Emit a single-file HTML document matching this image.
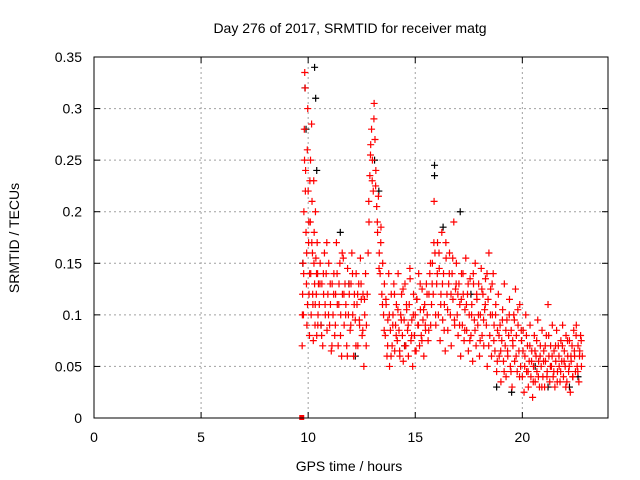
<!DOCTYPE html>
<html><head><meta charset="utf-8"><style>
body{margin:0;background:#fff}
svg{display:block;font-family:"Liberation Sans",sans-serif}
</style></head><body>
<svg id="chart" width="640" height="480">
<rect width="640" height="480" fill="#fff"/>
<g id="grid"></g>
<g id="blk"></g>
<g id="red"></g>
<rect x="94" y="57" width="514" height="361" fill="none" stroke="#000" stroke-width="1"/>
<g id="axes"></g>
<text x="350" y="33" text-anchor="middle" font-size="14">Day 276 of 2017, SRMTID for receiver matg</text>
<text x="349" y="471" text-anchor="middle" font-size="14">GPS time / hours</text>
<text x="19" y="238" text-anchor="middle" font-size="14" transform="rotate(-90 19 238)">SRMTID / TECUs</text>
</svg>
<script>
const xTicks=[0,5,10,15,20];
const yTicks=[0,0.05,0.1,0.15,0.2,0.25,0.3,0.35];
const yTickLabels=["0","0.05","0.1","0.15","0.2","0.25","0.3","0.35"];
const redT=[9.72,9.74,9.76,9.78,9.80,9.82,9.84,9.86,9.88,9.90,9.92,9.94,9.96,9.98,10.0,10.02,10.04,10.06,10.08,10.10,10.12,10.14,10.16,10.18,10.2,10.22,10.24,10.26,10.28,10.3,10.32,10.34,10.36,10.38,10.4,10.42,10.44,10.46,10.48,
10.52,10.56,10.6,10.64,10.68,10.72,10.76,10.8,10.84,10.88,10.92,10.96,11.0,11.04,11.08,11.12,11.16,11.2,11.24,11.28,11.32,11.36,11.4,11.44,11.48,11.52,11.56,11.6,11.64,11.68,11.72,11.76,11.8,11.84,11.88,11.92,11.96,12.0,12.04,12.08,12.12,12.16,12.2,12.24,12.28,12.32,12.36,12.4,12.44,12.48,12.52,12.56,12.6,12.64,12.68,12.72,
12.76,12.8,12.84,12.88,12.92,12.96,13.0,13.04,13.08,13.12,13.16,13.2,13.24,13.28,13.32,13.36,13.4,13.44,13.48,
13.52,13.56,13.6,13.64,13.68,13.72,13.76,13.8,13.84,13.88,13.92,13.96,14.0,14.04,14.08,14.12,14.16,14.2,14.24,14.28,14.32,14.36,14.4,14.44,14.48,14.52,14.56,14.6,14.64,14.68,14.72,14.76,14.8,14.84,14.88,14.92,14.96,15.0,15.04,15.08,15.12,15.16,15.2,15.24,15.28,15.32,15.36,15.4,15.44,15.48,15.52,15.56,15.6,15.64,15.68,15.72,
15.76,15.8,15.84,15.88,15.92,15.96,16.0,16.04,16.08,16.12,16.16,16.2,16.24,16.28,16.32,16.36,16.4,16.44,16.48,16.52,16.56,16.6,16.64,16.68,16.72,16.76,16.8,16.84,16.88,16.92,
16.96,17.0,17.04,17.08,17.12,17.16,17.2,17.24,17.28,17.32,17.36,17.4,17.44,17.48,17.52,17.56,17.6,17.64,17.68,17.72,17.76,17.8,17.84,17.88,17.92,17.96,18.0,18.04,18.08,18.12,18.16,18.2,18.24,18.28,18.32,18.36,18.4,18.44,18.48,18.52,18.56,18.6,18.64,
18.68,18.72,18.76,18.8,18.84,18.88,18.92,18.96,19.0,19.04,19.08,19.12,19.16,19.2,19.24,19.28,19.32,19.36,19.4,19.44,19.48,19.52,19.56,19.6,19.64,19.68,19.72,19.76,19.8,19.84,19.88,19.92,19.96,
20.0,20.04,20.08,20.12,20.16,20.2,20.24,20.28,20.32,20.36,20.4,20.44,20.48,20.52,20.56,20.6,20.64,20.68,20.72,20.76,20.8,20.84,20.88,20.92,20.96,21.0,21.04,21.08,21.12,21.16,21.2,21.24,21.28,21.32,21.36,21.4,21.44,21.48,21.52,21.56,21.6,21.64,21.68,21.72,21.76,21.8,21.84,21.88,21.92,21.96,22.0,22.04,22.08,22.12,22.16,22.2,22.24,22.28,22.32,22.36,22.4,22.44,22.48,22.52,22.56,22.6,22.64,22.68,22.72,22.76,22.8];
const redV=[.07,.12,.15,.10,.20,.28,.335,.32,.24,.18,.13,.09,.26,.30,.22,.17,.12,.08,.23,.19,.14,.10,.285,.21,.16,.11,.075,.23,.18,.13,.09,.20,.155,.12,.08,.17,.14,.10,.13,
.11,.15,.09,.13,.07,.12,.16,.10,.14,.085,.12,.15,.09,.11,.065,.13,.10,.14,.08,.12,.17,.11,.07,.13,.15,.10,.06,.12,.155,.09,.13,.11,.07,.145,.10,.12,.085,.13,.16,.10,.06,.12,.095,.14,.11,.07,.13,.09,.155,.115,.08,.12,.05,.10,.14,.09,
.12,.16,.19,.235,.265,.28,.25,.22,.305,.27,.24,.205,.18,.215,.16,.14,.185,.12,.15,
.10,.13,.08,.11,.06,.095,.14,.05,.085,.12,.07,.10,.13,.065,.09,.11,.075,.14,.085,.06,.10,.12,.08,.055,.095,.13,.07,.105,.085,.06,.11,.135,.075,.095,.05,.12,.08,.10,.065,.115,.09,.14,.07,.105,.08,.125,.095,.06,.11,.085,.13,.10,.075,.12,.14,.09,
.11,.15,.12,.21,.16,.09,.13,.17,.10,.145,.075,.12,.18,.095,.14,.11,.065,.155,.12,.085,.13,.16,.10,.07,.14,.115,.19,.09,.125,.15,
.10,.08,.13,.11,.06,.14,.09,.12,.075,.105,.155,.085,.12,.065,.10,.135,.08,.11,.055,.13,.095,.15,.07,.115,.09,.13,.06,.10,.145,.08,.12,.07,.105,.135,.09,.05,.115,.16,.08,.125,.06,.10,.14,
.09,.065,.11,.045,.085,.12,.06,.09,.035,.075,.105,.055,.13,.07,.04,.095,.06,.08,.115,.05,.085,.03,.07,.10,.055,.125,.08,.045,.09,.065,.11,.05,.075,
.04,.085,.025,.06,.10,.045,.07,.03,.055,.09,.04,.065,.02,.05,.08,.035,.06,.045,.095,.055,.03,.07,.05,.085,.04,.065,.03,.055,.08,.045,.11,.06,.035,.07,.05,.09,.04,.065,.03,.055,.085,.045,.07,.05,.035,.075,.055,.09,.04,.065,.05,.08,.035,.06,.045,.075,.025,.055,.07,.04,.085,.06,.045,.09,.05,.07,.035,.065,.08,.05,.06];
const redT2=[9.73,9.79,9.83,9.87,9.93,9.97,10.03,10.07,10.11,10.17,10.21,10.27,10.33,10.39,10.45,
10.55,10.63,10.71,10.79,10.87,10.95,11.03,11.11,11.19,11.27,11.35,11.43,11.51,11.59,11.67,11.75,11.83,11.91,11.99,12.07,12.15,12.23,12.31,12.39,12.47,12.55,12.63,12.71,
12.83,12.91,12.99,13.07,13.15,13.23,13.31,13.39,13.47,
13.55,13.63,13.71,13.79,13.87,13.95,14.03,14.11,14.19,14.27,14.35,14.43,14.51,14.59,14.67,14.75,14.83,14.91,14.99,15.07,15.15,15.23,15.31,15.39,15.47,15.55,15.63,15.71,
15.79,15.87,15.95,16.03,16.11,16.19,16.27,16.35,16.43,16.51,16.59,16.67,16.75,16.83,16.91,
16.99,17.07,17.15,17.23,17.31,17.39,17.47,17.55,17.63,17.71,17.79,17.87,17.95,18.03,18.11,18.19,18.27,18.35,18.43,18.51,18.59,
18.67,18.75,18.83,18.91,18.99,19.07,19.15,19.23,19.31,19.39,19.47,19.55,19.63,19.71,19.79,19.87,19.95,
20.03,20.11,20.19,20.27,20.35,20.43,20.51,20.59,20.67,20.75,20.83,20.91,20.99,21.07,21.15,21.23,21.31,21.39,21.47,21.55,21.63,21.71,21.79,21.87,21.95,22.03,22.11,22.19,22.27,22.35,22.43,22.51,22.59,22.67,22.75];
const redV2=[.10,.14,.25,.22,.16,.11,.19,.14,.25,.17,.12,.15,.11,.14,.09,
.13,.08,.14,.11,.17,.10,.13,.07,.12,.09,.14,.11,.08,.16,.12,.10,.06,.13,.09,.14,.11,.07,.12,.095,.13,.085,.115,.07,
.21,.255,.23,.29,.225,.19,.145,.17,.11,
.085,.115,.07,.10,.06,.09,.12,.08,.105,.065,.095,.125,.07,.11,.09,.145,.08,.10,.065,.115,.09,.13,.075,.105,.09,.12,.085,.15,
.13,.17,.10,.14,.16,.11,.13,.085,.17,.105,.14,.12,.155,.095,.13,
.12,.09,.115,.14,.085,.11,.13,.075,.10,.14,.085,.12,.10,.075,.125,.095,.11,.14,.07,.10,.13,
.075,.10,.055,.08,.065,.095,.045,.085,.065,.10,.045,.075,.095,.06,.105,.04,.085,
.065,.05,.08,.045,.07,.055,.035,.065,.075,.04,.06,.03,.055,.07,.04,.08,.05,.06,.045,.07,.035,.06,.045,.07,.055,.03,.075,.05,.06,.04,.065,.08,.045,.06,.075];
const blkT=[9.75,9.85,9.9,10.3,10.35,10.4,11.5,12.2,13.1,13.3,15.9,15.9,16.3,17.1,18.8,19.5,21.2,22.2,10.6,11.9,14.5,17.6,20.6,22.6];
const blkV=[.15,.32,.28,.34,.31,.24,.18,.06,.25,.22,.245,.235,.185,.20,.03,.025,.03,.03,.09,.13,.07,.12,.05,.04];
const X=t=>94+t*(514/24), Y=v=>418-v*(361/0.35);
const ns="http://www.w3.org/2000/svg";
function mk(tag,attrs,parent){const e=document.createElementNS(ns,tag);for(const k in attrs)e.setAttribute(k,attrs[k]);parent.appendChild(e);return e;}
const grid=document.getElementById('grid'),axes=document.getElementById('axes');
xTicks.forEach(t=>{
 const x=X(t);
 if(t>0){const g=mk('line',{x1:x,x2:x,y1:57,y2:418,stroke:'#a0a0a0','stroke-dasharray':'2,3'},grid);
 
 }
 mk('line',{x1:x,x2:x,y1:418,y2:412,stroke:'#000'},axes);
 mk('line',{x1:x,x2:x,y1:57,y2:63,stroke:'#000'},axes);
 const l=mk('text',{x:x,y:442,'text-anchor':'middle','font-size':'14'},axes);l.textContent=t;
 
 
});
yTicks.forEach((v,i)=>{
 const y=Y(v);
 if(v>0&&v<0.35){const g=mk('line',{x1:94,x2:608,y1:y,y2:y,stroke:'#a0a0a0','stroke-dasharray':'2,3'},grid);
 
 }
 mk('line',{x1:94,x2:100,y1:y,y2:y,stroke:'#000'},axes);
 mk('line',{x1:608,x2:602,y1:y,y2:y,stroke:'#000'},axes);
 const l=mk('text',{x:82,y:y+5,'text-anchor':'end','font-size':'14'},axes);l.textContent=yTickLabels[i];
 
 
});
function plus(g,t,v,c,name){const x=X(t),y=Y(v);
 const p=mk('path',{d:`M${x-3.5},${y}h7M${x},${y-3.5}v7`,stroke:c,'stroke-width':'1.2',fill:'none'},g);
 
 }
const bg=document.getElementById('blk'),rg=document.getElementById('red');
blkT.forEach((t,i)=>plus(bg,t,blkV[i],'#000','black-point'));
redT.forEach((t,i)=>plus(rg,t,redV[i],'#ff0000','red-point'));
redT2.forEach((t,i)=>plus(rg,t,redV2[i],'#ff0000','red-point'));
const sq=mk('rect',{x:X(9.7)-2.5,y:Y(0)-3,width:5,height:5,fill:'#ff0000'},rg);


</script>
</body></html>
